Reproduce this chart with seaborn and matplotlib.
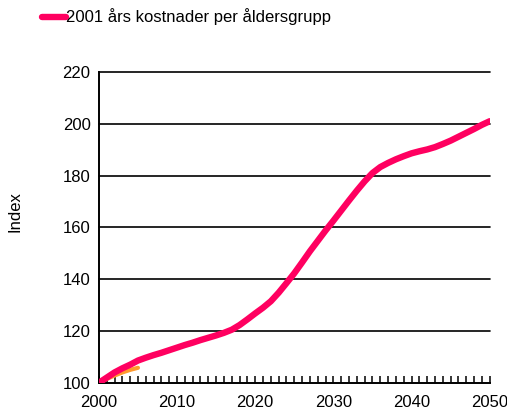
import pandas as pd; import numpy as np
import seaborn as sns; import matplotlib.pyplot as plt
from matplotlib.ticker import MultipleLocator

years = list(range(2000, 2051))
index_2001 = [100, 102, 104, 105.6, 107, 108.6, 109.7, 110.7, 111.6, 112.6,
              113.6, 114.6, 115.5, 116.5, 117.4, 118.3, 119.3, 120.5, 122.3, 124.5,
              126.8, 129, 131.5, 134.8, 138.5, 142.3, 146.5, 150.8, 154.8, 158.8,
              162.6, 166.5, 170.4, 174.2, 177.8, 181, 183.3, 184.9, 186.3, 187.5,
              188.6, 189.4, 190.1, 191, 192.2, 193.5, 195, 196.5, 198, 199.6,
              201]
# short orange series mostly hidden under the pink one
years_short = [2000, 2001, 2002, 2003, 2004, 2005]
index_short = [100, 101.5, 102.8, 104, 105, 105.8]

label = "2001 års kostnader per åldersgrupp"
df = pd.DataFrame({"år": years, "Index": index_2001})
df_short = pd.DataFrame({"år": years_short, "Index": index_short})

sns.set_style("white")
plt.rcParams['font.family'] = ['Liberation Sans', 'DejaVu Sans']
plt.rcParams['font.size'] = 12
plt.rcParams['text.color'] = "black"
plt.rcParams['axes.labelcolor'] = "black"
plt.rcParams['xtick.labelcolor'] = "black"
plt.rcParams['ytick.labelcolor'] = "black"

fig = plt.figure(figsize=(5.07, 4.09), dpi=100)
ax = fig.add_axes([0.195, 0.064, 0.771, 0.76])

sns.lineplot(data=df_short, x="år", y="Index", ax=ax, color="#ff9a2e", lw=3, zorder=3)
sns.lineplot(data=df, x="år", y="Index", ax=ax, color="#ff0060", lw=4.6, zorder=4,
             label=label, solid_capstyle="round")

ax.set_xlim(2000, 2050)
ax.set_ylim(100, 220)
ax.set_yticks([100, 120, 140, 160, 180, 200, 220])
ax.set_xticks([2000, 2010, 2020, 2030, 2040, 2050])
ax.xaxis.set_minor_locator(MultipleLocator(1))
for y in [120, 140, 160, 180, 200, 220]:
    ax.axhline(y, color="black", lw=1.2, zorder=2, clip_on=False)

for s in ["top", "right"]:
    ax.spines[s].set_visible(False)
ax.spines["left"].set_color("black")
ax.spines["left"].set_linewidth(1.4)
ax.spines["bottom"].set_color("black")
ax.spines["bottom"].set_linewidth(1.4)

ax.tick_params(axis="x", which="both", direction="in", length=5, width=1.1,
               color="black", pad=9, bottom=True)
ax.tick_params(axis="y", length=0, pad=6)
ax.set_xlabel("")
ax.set_ylabel("Index")
ax.yaxis.set_label_coords(-0.195, 0.55)

ax.legend(loc="lower left", bbox_to_anchor=(-0.145, 1.15), frameon=False,
          handlelength=1.4, handletextpad=0.05, borderaxespad=0, borderpad=0,
          fontsize=12)

plt.savefig("out.png", dpi=100)
